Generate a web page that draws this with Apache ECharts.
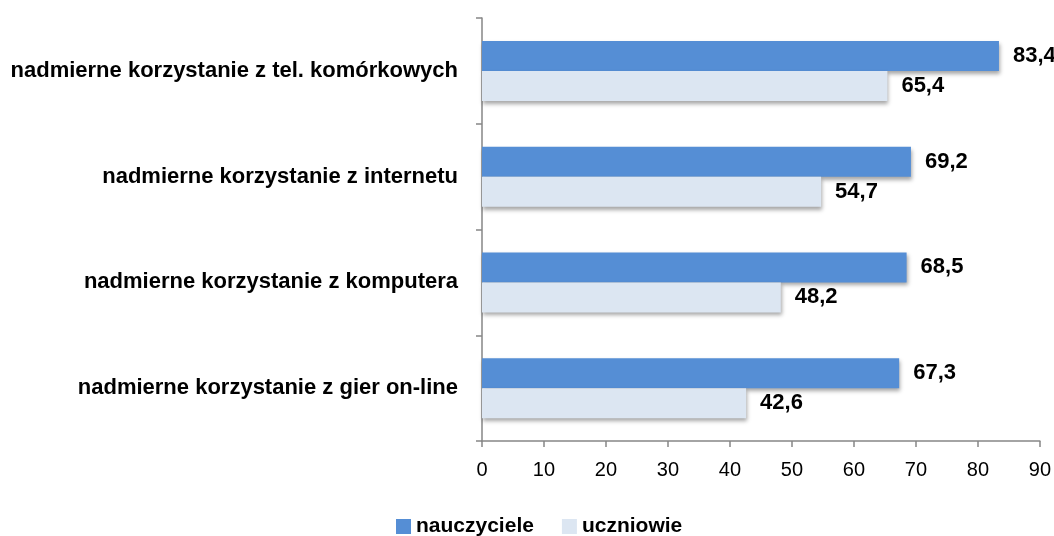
<!DOCTYPE html>
<html>
<head>
<meta charset="utf-8">
<script src="https://cdn.jsdelivr.net/npm/echarts@6/dist/echarts.min.js"></script>
<style>
  html, body { margin: 0; padding: 0; background: #fff; }
  #chart { width: 1054px; height: 536px; }
</style>
</head>
<body>
<div id="chart"></div>
<script>
// categories, top to bottom
const categories = [
    'nadmierne korzystanie z tel. komórkowych',
    'nadmierne korzystanie z internetu',
    'nadmierne korzystanie z komputera',
    'nadmierne korzystanie z gier on-line'
];
const nauczyciele = [83.4, 69.2, 68.5, 67.3];
const uczniowie = [65.4, 54.7, 48.2, 42.6];
const xTicks = [0, 10, 20, 30, 40, 50, 60, 70, 80, 90];

const axisGray = '#868686';
const fontFamily = '"Liberation Sans", Arial, sans-serif';

function comma(v) {
    return String(v.toFixed(1)).replace('.', ',');
}

let barShadow = {
    shadowBlur: 4,
    shadowOffsetX: 1,
    shadowOffsetY: 3,
    shadowColor: 'rgba(0,0,0,0.35)'
};

let labelStyle = {
    show: true,
    position: 'right',
    distance: 14,
    color: '#000',
    fontSize: 22,
    fontWeight: 'bold',
    fontFamily: fontFamily,
    formatter: p => comma(p.value)
};

let ec = echarts.init(document.getElementById('chart'));
let option = {
    animation: false,
    textStyle: { fontFamily: fontFamily },
    grid: { left: 482, right: 14, top: 18, bottom: 95 },
    legend: {
        top: 511,
        left: 391,
        itemWidth: 15,
        itemHeight: 15,
        itemGap: 28,
        icon: 'rect',
        textStyle: { fontSize: 21, fontWeight: 'bold', color: '#000', fontFamily: fontFamily }
    },
    xAxis: {
        type: 'value',
        min: xTicks[0],
        max: xTicks[xTicks.length - 1],
        interval: 10,
        splitLine: { show: false },
        axisLine: { show: true, lineStyle: { color: axisGray, width: 1.5 } },
        axisTick: { show: true, length: 6, lineStyle: { color: axisGray, width: 1.5 } },
        axisLabel: { margin: 19, fontSize: 20, color: '#000', fontFamily: fontFamily }
    },
    yAxis: {
        type: 'category',
        data: categories,
        inverse: true,
        axisLine: { show: true, lineStyle: { color: axisGray, width: 1.5 } },
        axisTick: { show: true, length: 6, lineStyle: { color: axisGray, width: 1.5 } },
        axisLabel: { margin: 24, fontSize: 22, fontWeight: 'bold', color: '#000', fontFamily: fontFamily }
    },
    series: [{
        name: 'nauczyciele',
        type: 'bar',
        data: nauczyciele,
        barWidth: 30,
        barGap: '0%',
        itemStyle: Object.assign({ color: '#558ED5' }, barShadow),
        label: labelStyle
    }, {
        name: 'uczniowie',
        type: 'bar',
        data: uczniowie,
        barWidth: 30,
        itemStyle: Object.assign({ color: '#DCE6F2' }, barShadow),
        label: labelStyle
    }]
};

ec.setOption(option);
</script>
</body>
</html>
